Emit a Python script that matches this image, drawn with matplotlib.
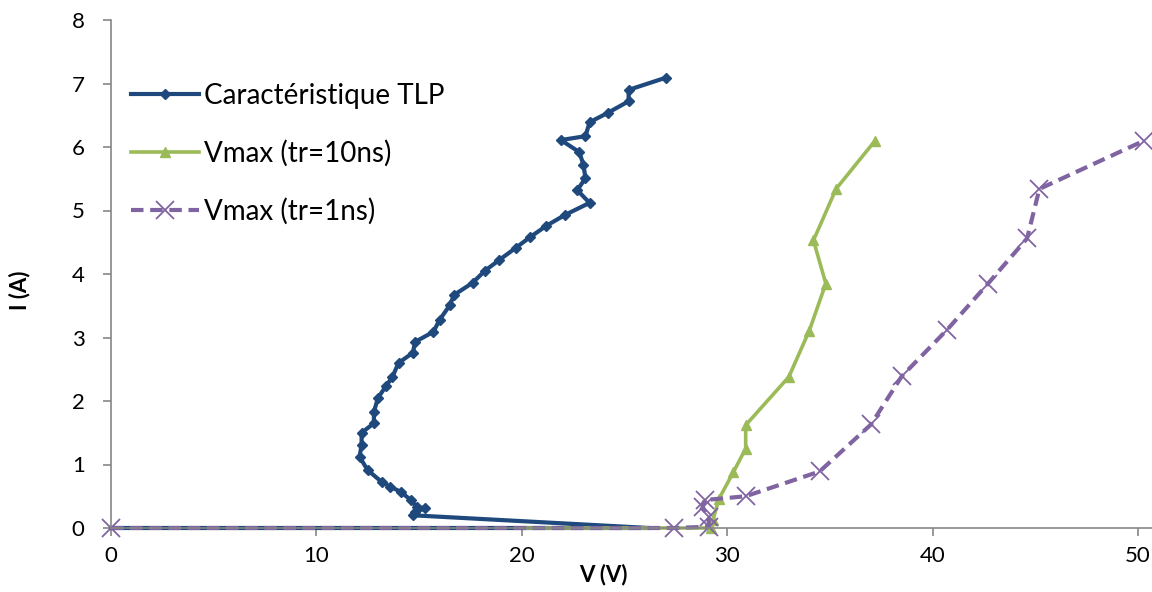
import matplotlib.pyplot as plt

# TLP characteristic
tlp_v = [0, 26.2, 14.7, 14.8, 15.3, 14.9, 14.6, 14.1, 13.6, 13.2, 12.5, 12.1, 12.2, 12.2,
         12.8, 12.8, 13.0, 13.4, 13.7, 14.0, 14.7, 14.8, 15.7, 16.0, 16.5, 16.7, 17.6,
         18.2, 18.9, 19.7, 20.4, 21.2, 22.1, 23.3, 22.7, 23.1, 23.0, 22.8, 21.9, 23.1,
         23.3, 24.2, 25.2, 25.2, 27.0]
tlp_i = [0, 0.0, 0.20, 0.25, 0.31, 0.33, 0.44, 0.57, 0.65, 0.72, 0.91, 1.12, 1.31, 1.50,
         1.65, 1.83, 2.05, 2.24, 2.38, 2.60, 2.76, 2.93, 3.09, 3.28, 3.51, 3.67, 3.86,
         4.05, 4.22, 4.41, 4.58, 4.76, 4.93, 5.12, 5.32, 5.51, 5.72, 5.92, 6.11, 6.17,
         6.39, 6.54, 6.72, 6.90, 7.09]

# Vmax, tr = 10ns
v10_v = [20.3, 29.2, 29.3, 29.6, 30.3, 30.9, 30.9, 33.0, 34.0, 34.8, 34.2, 35.3, 37.2]
v10_i = [0, 0, 0.12, 0.46, 0.88, 1.25, 1.62, 2.38, 3.11, 3.85, 4.53, 5.34, 6.10]

# Vmax, tr = 1ns
v1_v = [0, 27.4, 29.1, 29.1, 28.8, 28.9, 30.9, 34.5, 37.0, 38.5, 40.7, 42.7, 44.6, 45.2, 50.3]
v1_i = [0, 0, 0.02, 0.17, 0.33, 0.44, 0.50, 0.89, 1.63, 2.39, 3.12, 3.85, 4.56, 5.34, 6.10]

labels = ['Caractéristique TLP', 'Vmax (tr=10ns)', 'Vmax (tr=1ns)']

plt.rcParams['font.family'] = ['Lato', 'DejaVu Sans']

fig = plt.figure(figsize=(11.52, 5.92), dpi=100)
ax = fig.add_axes([111 / 1152, 64 / 592, 1041 / 1152, 508 / 592])

# the points lying on the V axis show no marker
ax.plot(tlp_v, tlp_i, color='#1F497D', lw=3, marker='D', ms=5.5, markevery=list(range(2, len(tlp_v))),
        label=labels[0], clip_on=False)
ax.plot(v10_v, v10_i, color='#9BBB59', lw=2.6, marker='^', ms=7.5, markevery=list(range(1, len(v10_v))),
        label=labels[1], clip_on=False)
ax.plot(v1_v, v1_i, color='#8064A2', lw=3, ls=(0, (3, 1.6)), marker='x', ms=13, mew=1.3,
        label=labels[2], clip_on=False)

ax.set_xlim(0, 1041 / 20.54)
ax.set_ylim(0, 8)
ax.set_xticks(range(0, 51, 10))
ax.set_yticks(range(0, 9))

for s in ['top', 'right']:
    ax.spines[s].set_visible(False)
for s in ['left', 'bottom']:
    ax.spines[s].set_color('#868686')
    ax.spines[s].set_linewidth(1.2)
ax.tick_params(axis='both', colors='#868686', length=6, width=1.2, labelcolor='black', labelsize=16)
ax.tick_params(axis='y', pad=13)
ax.tick_params(axis='x', pad=7)

ax.set_xlabel('V (V)', fontsize=16, fontweight='bold', labelpad=0)
ax.xaxis.set_label_coords(0.473, -0.07)
ax.set_ylabel('I (A)', fontsize=16, fontweight='bold')
ax.yaxis.set_label_coords(-0.077, 0.468)

leg = ax.legend(loc='upper left', bbox_to_anchor=(0.0055, 0.903), frameon=False, fontsize=20,
                handlelength=2.45, labelspacing=1.12, handletextpad=0.2, borderpad=0)

fig.savefig('out.png', dpi=100)
